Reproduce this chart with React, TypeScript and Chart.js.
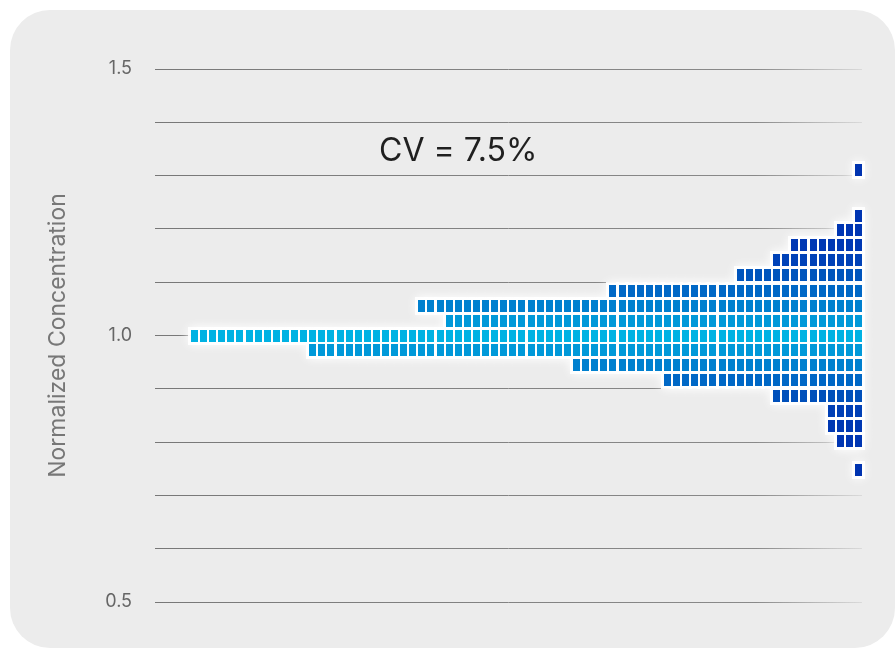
import React, { useEffect, useRef } from "react";
import { Chart, registerables } from "chart.js";

Chart.register(...registerables);

// ---- data ----
const COLUMN_COUNT = 74; // columns 0..73
const ROW_LEVELS = [
  1.31, 1.225, 1.197, 1.169, 1.141, 1.113, 1.084, 1.056, 1.028, 1.0,
  0.972, 0.944, 0.916, 0.887, 0.859, 0.831, 0.803, 0.747,
];
// first column where each row level is filled (filled through the last column)
const ROW_FIRST_COLUMN = [73, 73, 71, 66, 64, 60, 46, 25, 28, 0, 13, 42, 52, 64, 70, 70, 71, 73];
const ROW_COLORS = [
  "#0033b0", "#0035b2", "#0036b3", "#0038b4", "#0042b8", "#0055bd", "#0068c6", "#0080cf", "#0099d9",
  "#00b2e3",
  "#0099d9", "#0080cf", "#0068c6", "#0050bb", "#0040b6", "#0038b3", "#0036b3", "#0033b0",
];
const Y_LABELLED_TICKS = [0.5, 1.0, 1.5];
const Y_AXIS_TITLE = "Normalized Concentration";
const ANNOTATION_TEXT = "CV = 7.5%";
const ANNOTATION_X = 29;
const ANNOTATION_Y = 1.345;

function makeCell(color: string) {
  const c = document.createElement("canvas");
  c.width = 7;
  c.height = 12;
  const g = c.getContext("2d")!;
  g.fillStyle = color;
  g.fillRect(0, 0, 7, 12);
  return c;
}

function makeHalo() {
  const c = document.createElement("canvas");
  c.width = 35;
  c.height = 40;
  const g = c.getContext("2d")!;
  g.shadowColor = "rgba(255,255,255,1)";
  g.shadowBlur = 10;
  g.fillStyle = "rgba(255,255,255,0.9)";
  g.fillRect(11, 11, 13, 18);
  return c;
}

export default function App() {
  const ref = useRef<HTMLCanvasElement | null>(null);

  useEffect(() => {
    if (!ref.current) return;
    const cellImgs = ROW_COLORS.map(makeCell);
    const halo = makeHalo();

    const points: { x: number; y: number }[] = [];
    const styles: HTMLCanvasElement[] = [];
    ROW_LEVELS.forEach((lvl, r) => {
      for (let c = ROW_FIRST_COLUMN[r]; c < COLUMN_COUNT; c++) {
        points.push({ x: c, y: lvl });
        styles.push(cellImgs[r]);
      }
    });

    const plugin = {
      id: "cellsAndText",
      beforeDatasetsDraw(chart: any) {
        chart.ctx.save();
        chart.ctx.imageSmoothingEnabled = false;
      },
      afterDatasetsDraw(chart: any) {
        chart.ctx.restore();
        const ctx = chart.ctx;
        const x = chart.scales.x.getPixelForValue(ANNOTATION_X);
        const y = chart.scales.y.getPixelForValue(ANNOTATION_Y);
        ctx.save();
        ctx.font = "32px Inter";
        ctx.fillStyle = "#1f1f1f";
        ctx.textAlign = "center";
        ctx.textBaseline = "middle";
        ctx.fillText(ANNOTATION_TEXT, x, y);
        ctx.restore();
      },
    };

    const chart = new Chart(ref.current, {
      type: "scatter",
      data: {
        datasets: [
          {
            data: points,
            pointStyle: styles as any,
            pointRadius: 4,
            order: 0,
            clip: false as any,
          },
          {
            data: points,
            pointStyle: halo as any,
            pointRadius: 4,
            order: 1,
            clip: false as any,
          },
        ],
      },
      options: {
        responsive: false,
        animation: false,
        events: [],
        layout: { padding: { left: 0, top: 69, right: 34, bottom: 48 } },
        plugins: { legend: { display: false }, tooltip: { enabled: false } },
        scales: {
          x: { type: "linear", display: false, min: -4.34, max: 73.38 },
          y: {
            type: "linear",
            min: 0.5,
            max: 1.5,
            border: { display: false },
            afterFit: (s: any) => {
              s.width = 155;
            },
            ticks: {
              stepSize: 0.1,
              padding: 23,
              color: "#666666",
              font: { family: "Inter", size: 18 },
              callback: (v: any) => {
                const n = Number(v);
                return Y_LABELLED_TICKS.some((t) => Math.abs(t - n) < 1e-6) ? n.toFixed(1) : "";
              },
            },
            grid: {
              drawTicks: false,
              lineWidth: 1,
              color: (c: any) => {
                const a = c.chart.chartArea;
                if (!a) return "#858585";
                const g = c.chart.ctx.createLinearGradient(a.left, 0, a.right, 0);
                g.addColorStop(0, "rgba(120,120,120,1)");
                g.addColorStop(0.85, "rgba(120,120,120,0.85)");
                g.addColorStop(1, "rgba(120,120,120,0.15)");
                return g;
              },
            },
            title: {
              display: true,
              text: Y_AXIS_TITLE,
              color: "#777777",
              font: { family: "Inter", size: 23, lineHeight: 1 },
              padding: { top: 47, bottom: 0 },
            },
          },
        },
      },
      plugins: [plugin],
    });
    return () => chart.destroy();
  }, []);

  return (
    <div style={{ position: "absolute", left: 0, top: 0, width: 896, height: 650, background: "#ffffff", overflow: "hidden" }}>
      <div style={{ position: "absolute", left: 10, top: 10, width: 885, height: 638, borderRadius: 40, background: "#ececec" }} />
      <canvas ref={ref} width={896} height={650} style={{ position: "absolute", left: 0, top: 0, width: 896, height: 650 }} />
    </div>
  );
}
